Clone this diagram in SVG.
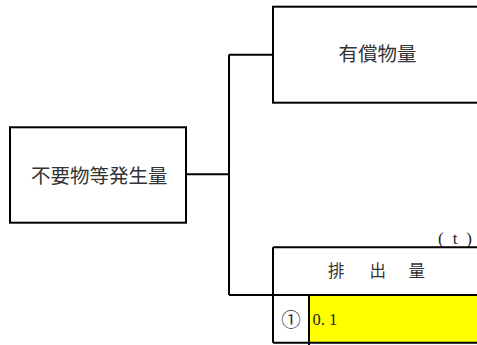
<svg xmlns="http://www.w3.org/2000/svg" width="477" height="345" viewBox="0 0 477 345">
<style>
.box{fill:#fff;stroke:#000;stroke-width:2}
.ln{fill:none;stroke:#000;stroke-width:2}
.jp{font-family:"Noto Sans CJK JP","Noto Sans CJK SC",sans-serif;fill:#333;dominant-baseline:central;text-anchor:middle}
.num{font-family:"Liberation Serif",serif;fill:#222}
</style>
<rect width="477" height="345" fill="#fff"/>
<g id="connectors">
<path class="ln" d="M186 174.3H229M229 54.7V295M229 54.7H273M229 295H273"/>
</g>
<g id="node-source">
<rect class="box" x="10" y="127.3" width="176" height="95.4"/>
<text class="jp" x="99.2" y="174" font-size="19.5">不要物等発生量</text>
</g>
<g id="node-valuable">
<rect class="box" x="273" y="6.7" width="220" height="96"/>
<text class="jp" x="377.5" y="52.8" font-size="19.5">有償物量</text>
</g>
<g id="node-emission">
<text class="num" x="438" y="244" font-size="17" textLength="34" lengthAdjust="spacing">( t )</text>
<rect x="309" y="295" width="170" height="47.7" fill="#ffff00"/>
<path class="ln" d="M273 247.3H480M273 247.3V342.7M273 295H480M273 342.7H480M309 295V345"/>
<text class="jp" y="270" font-size="16.5" style="text-anchor:start"><tspan x="328">排 </tspan><tspan x="369.5">出 </tspan><tspan x="408.5">量</tspan></text>
<text class="jp" x="291" y="318" font-size="19.5">①</text>
<text class="num" x="312.5" y="324.5" font-size="16.5">0. 1</text>
</g>
</svg>
